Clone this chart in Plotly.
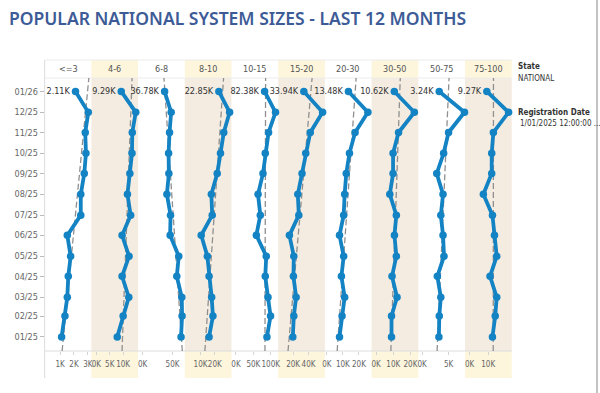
import numpy as np
import pandas as pd
import plotly.graph_objects as go

# ---------------- data ----------------
months = pd.date_range("2025-01-01", "2026-01-01", freq="MS")
categories = ["<=3", "4-6", "6-8", "8-10", "10-15", "15-20", "20-30", "30-50", "50-75", "75-100"]

# monthly registrations (thousands), Jan-25 .. Jan-26
v_le3 = [1.11, 1.35, 1.52, 1.59, 1.76, 1.52, 2.49, 2.49, 2.74, 2.86, 2.81, 3.03, 2.11]
v_4_6 = [7.8, 10.0, 12.1, 9.6, 12.2, 9.6, 12.8, 11.6, 12.5, 13.3, 13.4, 14.7, 9.29]
v_6_8 = [64.2, 65.9, 65.4, 57.1, 60.4, 46.0, 46.7, 40.6, 43.9, 43.4, 45.0, 47.7, 36.78]
v_8_10 = [16.0, 18.7, 17.8, 16.0, 14.8, 10.5, 18.2, 17.6, 21.7, 24.0, 26.3, 30.4, 22.85]
v_10_15 = [89.1, 99.4, 92.0, 84.3, 87.1, 58.6, 70.0, 63.4, 77.7, 84.3, 93.7, 113.7, 82.38]
v_15_20 = [19.6, 20.9, 23.9, 20.4, 20.9, 15.2, 27.4, 26.1, 31.6, 36.4, 42.3, 58.3, 33.94]
v_20_30 = [7.9, 9.5, 11.1, 9.1, 10.5, 7.9, 10.5, 11.1, 12.1, 14.1, 17.6, 25.6, 13.48]
v_30_50 = [9.0, 9.0, 12.2, 9.3, 11.8, 10.7, 11.8, 8.0, 9.9, 9.9, 13.1, 22.3, 10.62]
v_50_75 = [3.18, 3.25, 3.54, 2.89, 4.14, 3.96, 3.54, 3.96, 2.77, 4.07, 5.0, 8.0, 3.24]
v_75_100 = [12.3, 13.8, 14.6, 11.0, 14.6, 13.4, 12.3, 7.4, 11.9, 11.9, 12.8, 21.0, 9.27]
series = [v_le3, v_4_6, v_6_8, v_8_10, v_10_15, v_15_20, v_20_30, v_30_50, v_50_75, v_75_100]

last_labels = ["2.11K", "9.29K", "36.78K", "22.85K", "82.38K", "33.94K", "13.48K", "10.62K", "3.24K", "9.27K"]

x_ranges = [[-0.11, 3.25], [-1.85, 15.56], [-7.45, 70.4], [-1.03, 31.7], [-12.9, 121.4],
            [0.6, 61.3], [-1.2, 27.9], [-2.6, 24.6], [-0.7, 8.1], [-2.5, 22.7]]
x_tickvals = [[1, 2, 3], [0, 5, 10], [0, 50], [10, 20], [0, 50, 100],
              [20, 40], [0, 10, 20], [0, 10, 20], [0, 5], [0, 10]]
x_ticktext = [[f"{v}K" for v in tv] for tv in x_tickvals]

y_range = [pd.Timestamp("2024-12-11"), pd.Timestamp("2026-01-21")]
y_ticktext = [m.strftime("%m/%y") for m in months]

# ---------------- layout helpers ----------------
W, H = 600, 393
LEFT, RIGHT = 42, 513
TOP, BOTTOM = 78, 351
HEAD_TOP, AXIS_BOTTOM = 60, 378
PW = (RIGHT - LEFT) / 10

def px(x):
    return x / W

def py(y):
    return 1 - y / H

FONT = "DejaVu Sans Condensed, Liberation Sans Narrow, Arial Narrow, Roboto, sans-serif"
BLUE = "#1483c4"
BEIGE = "#f4ece1"
YELLOW = "#fdf5dc"

fig = go.Figure()
t_days = np.array([(m - months[0]).days for m in months], dtype=float)
t_ends = np.array([(d - months[0]).days for d in y_range], dtype=float)

for i, vals in enumerate(series):
    xa = "x" if i == 0 else f"x{i+1}"
    coef = np.polyfit(t_days, np.array(vals, dtype=float), 1)
    trend = np.polyval(coef, t_ends)
    fig.add_trace(go.Scatter(
        x=trend, y=y_range, xaxis=xa, yaxis="y", mode="lines",
        line=dict(color="#8f8f8f", width=1.3, dash="6px,3px"),
        hoverinfo="skip", showlegend=False))
    text = [""] * (len(vals) - 1) + [last_labels[i]]
    fig.add_trace(go.Scatter(
        x=vals, y=months, xaxis=xa, yaxis="y", mode="lines+markers+text",
        line=dict(color=BLUE, width=3.8),
        marker=dict(color=BLUE, size=7.5),
        text=text, textposition="middle left",
        textfont=dict(family=FONT, size=9, color="#333333"),
        cliponaxis=False, showlegend=False))

layout = dict(
    width=W, height=H,
    margin=dict(l=0, r=0, t=0, b=0),
    paper_bgcolor="white", plot_bgcolor="rgba(0,0,0,0)",
    showlegend=False,
)

for i in range(10):
    key = "xaxis" if i == 0 else f"xaxis{i+1}"
    layout[key] = dict(
        domain=[px(LEFT + i * PW), px(LEFT + (i + 1) * PW)],
        range=x_ranges[i], anchor="y",
        tickvals=x_tickvals[i], ticktext=x_ticktext[i],
        tickangle=0,
        showgrid=False, zeroline=False, showline=False,
        ticks="outside", ticklen=3, tickcolor="#d4d4d4",
        ticklabelstandoff=2,
        tickfont=dict(family=FONT, size=8, color="#666666"),
        fixedrange=True,
    )

layout["yaxis"] = dict(
    type="date", domain=[py(BOTTOM), py(TOP)], range=y_range, anchor="x",
    tickvals=list(months), ticktext=y_ticktext,
    showgrid=False, zeroline=False, showline=False,
    ticks="outside", ticklen=4, tickcolor="#bbbbbb",
    tickfont=dict(family=FONT, size=9, color="#666666"),
    fixedrange=True,
)

shapes = []
for i in range(10):
    x0, x1 = px(LEFT + i * PW), px(LEFT + (i + 1) * PW)
    if i % 2 == 1:
        shapes.append(dict(type="rect", xref="paper", yref="paper", x0=x0, x1=x1,
                           y0=py(BOTTOM), y1=py(TOP), fillcolor=BEIGE, line_width=0, layer="below"))
        shapes.append(dict(type="rect", xref="paper", yref="paper", x0=x0, x1=x1,
                           y0=py(TOP), y1=py(HEAD_TOP), fillcolor=YELLOW, line_width=0, layer="below"))
        shapes.append(dict(type="rect", xref="paper", yref="paper", x0=x0, x1=x1,
                           y0=py(AXIS_BOTTOM), y1=py(BOTTOM), fillcolor=YELLOW, line_width=0, layer="below"))

LINE = "#dcdcdc"
for yy in (HEAD_TOP, TOP):
    shapes.append(dict(type="line", xref="paper", yref="paper", x0=px(LEFT), x1=px(RIGHT),
                       y0=py(yy), y1=py(yy), line=dict(color="#ececec", width=1), layer="below"))
shapes.append(dict(type="line", xref="paper", yref="paper", x0=px(LEFT), x1=px(RIGHT),
                   y0=py(BOTTOM), y1=py(BOTTOM), line=dict(color=LINE, width=1), layer="below"))
shapes.append(dict(type="line", xref="paper", yref="paper", x0=px(LEFT), x1=px(LEFT),
                   y0=py(AXIS_BOTTOM), y1=py(HEAD_TOP), line=dict(color=LINE, width=1), layer="below"))
shapes.append(dict(type="line", xref="paper", yref="paper", x0=px(599), x1=px(599),
                   y0=0, y1=1, line=dict(color="#9a9a9a", width=1.2), layer="above"))
layout["shapes"] = shapes

annotations = []
for i, c in enumerate(categories):
    annotations.append(dict(text=c, xref="paper", yref="paper",
                            x=px(LEFT + (i + 0.5) * PW), y=py((HEAD_TOP + TOP) / 2),
                            xanchor="center", yanchor="middle", showarrow=False,
                            font=dict(family=FONT, size=9, color="#555555")))

annotations.append(dict(text="POPULAR NATIONAL SYSTEM SIZES - LAST 12 MONTHS",
                        xref="paper", yref="paper", x=px(4), y=py(18),
                        xanchor="left", yanchor="middle", showarrow=False,
                        font=dict(family="Noto Sans, Open Sans, sans-serif", size=17.5,
                                  color="#3d5b96", weight=600)))

legend_items = [("<b>State</b>", 66, 517), ("NATIONAL", 78, 517),
                ("<b>Registration Date</b>", 112, 517), ("1/01/2025 12:00:00 ...", 124, 519)]
for txt, yy, xx in legend_items:
    annotations.append(dict(text=txt, xref="paper", yref="paper", x=px(xx), y=py(yy),
                            xanchor="left", yanchor="middle", showarrow=False,
                            font=dict(family=FONT, size=8, color="#333333")))
layout["annotations"] = annotations

fig.update_layout(**layout)
fig.write_html("out.html", config={"displayModeBar": False},
               post_script="document.body.style.margin='0px';")
